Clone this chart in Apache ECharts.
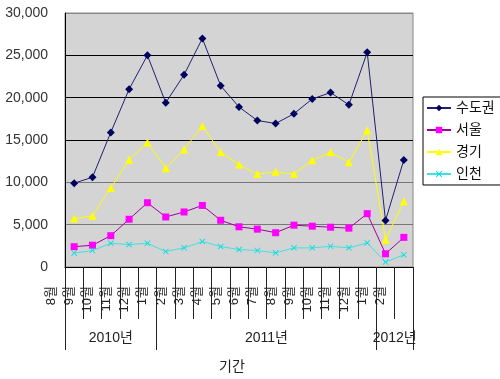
<!DOCTYPE html>
<html>
<head>
<meta charset="utf-8">
<script src="https://cdn.jsdelivr.net/npm/echarts@6/dist/echarts.min.js"></script>
<style>html,body{margin:0;padding:0;background:#fff;}#c{width:500px;height:379px;}</style>
</head>
<body>
<div id="c"></div>
<script>
const months = ['8월','9월','10월','11월','12월','1월','2월','3월','4월','5월','6월','7월','8월','9월','10월','11월','12월','1월','2월'];
const years = ['2010년','2011년','2012년'];
const yearStart = [0, 5, 17];
const yearEnd = [5, 17, 19];
const yTicks = [0, 5000, 10000, 15000, 20000, 25000, 30000];

const sudogwon = [9900, 10600, 15900, 21000, 25000, 19400, 22700, 27000, 21400, 18900, 17300, 16950, 18100, 19850, 20600, 19150, 25350, 5500, 12650];
const seoul    = [2400, 2570, 3700, 5640, 7590, 5910, 6500, 7270, 5520, 4750, 4470, 4050, 4940, 4820, 4700, 4590, 6300, 1560, 3500];
const gyeonggi = [5720, 6030, 9330, 12680, 14700, 11670, 13890, 16650, 13540, 12100, 10970, 11240, 10970, 12600, 13540, 12370, 16140, 3230, 7780];
const incheon  = [1630, 1950, 2800, 2650, 2800, 1830, 2260, 3000, 2410, 2060, 1950, 1670, 2260, 2260, 2450, 2260, 2840, 580, 1440];

const FONT = '"Liberation Sans", "Noto Sans CJK KR", sans-serif';
const xMark = 'path://M0,1L1,0L5,4L9,0L10,1L6,5L10,9L9,10L5,6L1,10L0,9L4,5Z';

const yearCenters = years.map((y, i) => (yearStart[i] + yearEnd[i]) / 2);
const yearBounds = [0].concat(yearEnd);

const chart = echarts.init(document.getElementById('c'), null, {renderer: 'canvas'});
chart.setOption({
  animation: false,
  textStyle: {fontFamily: FONT},
  grid: {left: 65, right: 87, top: 13, bottom: 109, show: true, backgroundColor: '#d4d4d4', borderColor: '#888', borderWidth: 1},
  legend: {
    orient: 'vertical', left: 423, top: 97,
    itemWidth: 24, itemHeight: 8, itemGap: 8,
    padding: [4, 9, 4, 3],
    borderColor: '#000', borderWidth: 1, backgroundColor: '#fff',
    textStyle: {fontSize: 14, color: '#111', fontFamily: FONT},
    data: ['수도권', '서울', '경기', '인천']
  },
  xAxis: [{
    type: 'category', data: months, boundaryGap: true,
    axisLine: {show: true, lineStyle: {color: '#000', width: 1}},
    axisTick: {show: true, interval: 0, length: 52, lineStyle: {color: '#222'}},
    axisLabel: {rotate: 90, interval: 0, margin: 19, fontSize: 13, color: '#222',
      verticalAlign: 'bottom', lineHeight: 46},
    splitLine: {show: false}
  }, {
    type: 'value', min: 0, max: 19, position: 'bottom',
    axisLine: {show: false},
    splitLine: {show: false},
    axisTick: {show: true, customValues: yearBounds, length: 83, lineStyle: {color: '#222'}},
    axisLabel: {customValues: yearCenters, margin: 64, fontSize: 14, color: '#222',
      formatter: v => { const i = yearCenters.indexOf(v); return i >= 0 ? years[i] : ''; }},
    name: '기간', nameLocation: 'middle', nameGap: 93,
    nameTextStyle: {fontSize: 14, color: '#222', padding: [0, 14, 0, 0]}
  }],
  yAxis: {
    type: 'value', min: 0, max: 30000, interval: 5000,
    axisLine: {show: true, lineStyle: {color: '#000'}},
    axisTick: {show: false},
    axisLabel: {margin: 17, fontSize: 14, color: '#333', formatter: v => v.toLocaleString('en-US')},
    splitLine: {show: true, lineStyle: {color: ['#000', '#777', '#777', '#000', '#000', '#000', '#888'], width: 1}}
  },
  series: [
    {name: '수도권', type: 'line', data: sudogwon, xAxisIndex: 0, symbol: 'diamond', symbolSize: 8,
      itemStyle: {color: '#000060'}, lineStyle: {color: '#202070', width: 1}},
    {name: '서울', type: 'line', data: seoul, xAxisIndex: 0, symbol: 'rect', symbolSize: 7,
      itemStyle: {color: '#ff00ff'}, lineStyle: {color: '#a000a0', width: 1}},
    {name: '경기', type: 'line', data: gyeonggi, xAxisIndex: 0, symbol: 'triangle', symbolSize: 8,
      itemStyle: {color: '#ffff00'}, lineStyle: {color: '#ffff00', width: 1}},
    {name: '인천', type: 'line', data: incheon, xAxisIndex: 0, symbol: xMark, symbolSize: 6,
      itemStyle: {color: '#00e0e0'}, lineStyle: {color: '#40e0e0', width: 1}}
  ]
});
</script>
</body>
</html>
